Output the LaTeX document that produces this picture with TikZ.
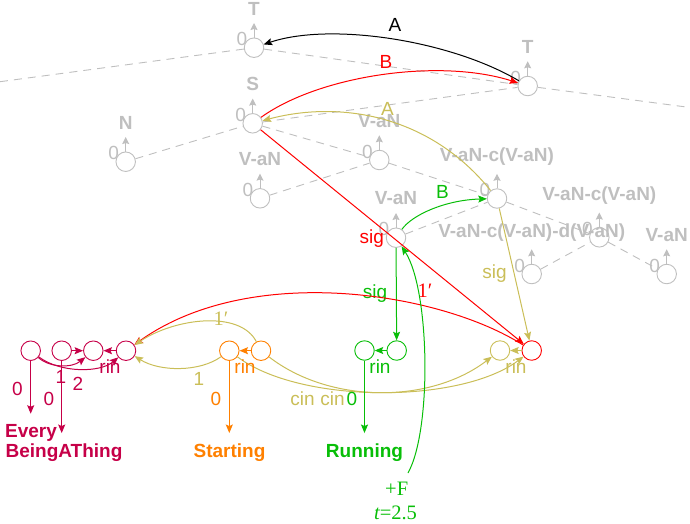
\documentclass[tikz,border=0pt]{standalone}
\usepackage{fontspec}
\setmainfont{Liberation Sans}
\newfontfamily\seriffont{Liberation Serif}
\usetikzlibrary{arrows.meta}
\definecolor{lgray}{RGB}{191,191,191}
\definecolor{myred}{RGB}{255,0,0}
\definecolor{olivec}{RGB}{202,190,88}
\definecolor{mygreen}{RGB}{8,190,8}
\definecolor{myorange}{RGB}{255,128,0}
\definecolor{crim}{RGB}{198,0,72}
\newcommand\tnode[4]{%
  \node[nd,draw=lgray] (#1) at (#2,#3) {};
  \draw[upar] (#1.north) -- ++(0,-14.5);
  \node[glab,anchor=base] (#1z) at ({#2-12},{#3-2}) {0};
  \node[gname] (#1l) at ({#2},{#3-32.5}) {#4};
}
\begin{document}
\begin{tikzpicture}[x=1pt,y=-1pt,
  >={Stealth[length=8.5pt,width=7pt,inset=1.5pt]},
  every node/.style={font=\fontsize{19}{22}\selectfont},
  nd/.style={circle,draw,minimum size=19.5pt,inner sep=0pt,line width=0.9pt},
  tedge/.style={draw=lgray,line width=0.9pt,dash pattern=on 8pt off 6pt},
  upar/.style={draw=lgray,line width=1pt,-{Stealth[length=7pt,width=7pt,inset=1pt]}},
  glab/.style={text=lgray,inner sep=0pt},
  gname/.style={text=lgray,inner sep=0pt,font=\fontsize{19}{22}\selectfont\bfseries,anchor=south},
  elab/.style={inner sep=0pt,anchor=base},
  slab/.style={inner sep=0pt,anchor=base,font=\fontsize{20.5}{24}\seriffont},
  conn/.style={line width=1pt,->},
  tgt/.style={font=\fontsize{19}{22}\selectfont\bfseries,anchor=base,inner xsep=0pt,inner ysep=10pt},
]
\useasboundingbox (0,0) rectangle (690,523);

% ---------- tree nodes ----------
\tnode{T1}{254}{47.7}{T}
\tnode{T2}{527.7}{86}{T}
\tnode{S}{252.7}{123.3}{S}
\tnode{N}{125.7}{161.7}{N}
\tnode{V0}{260}{198.3}{V-aN}
\tnode{V1}{379.3}{160}{V-aN}
\tnode{V2}{396}{237.7}{V-aN}
\tnode{Vc}{497}{198.5}{V-aN-c(V-aN)}
\tnode{Vd}{599.3}{237.3}{V-aN-c(V-aN)}
\tnode{Ve}{531.7}{274}{V-aN-c(V-aN)-d(V-aN)}
\tnode{Vf}{666.7}{274}{V-aN}

\coordinate (Lend) at (0,81.7);
\coordinate (Rend) at (690,107.5);
\draw[tedge] (Lend) -- (T1);
\draw[tedge] (T1) -- (T2);
\draw[tedge] (T2) -- (Rend);
\draw[tedge] (S) -- (T2);
\draw[tedge] (N) -- (S);
\draw[tedge] (S) -- (V1);
\draw[tedge] (V0) -- (V1);
\draw[tedge] (V1) -- (Vc);
\draw[tedge] (V2) -- (Vc);
\draw[tedge] (Vc) -- (Vd);
\draw[tedge] (Ve) -- (Vd);
\draw[tedge] (Vd) -- (Vf);

% ---------- bottom nodes ----------
\node[nd,draw=crim] (c1) at (30.7,350.7) {};
\node[nd,draw=crim] (c2) at (61.7,350.7) {};
\node[nd,draw=crim] (c3) at (93.3,350.7) {};
\node[nd,draw=crim] (c4) at (126,350.7) {};
\node[nd,draw=myorange] (o1) at (229.3,350.7) {};
\node[nd,draw=myorange] (o2) at (261,350.7) {};
\node[nd,draw=mygreen] (g1) at (364.5,350.5) {};
\node[nd,draw=mygreen] (g2) at (396.7,350.5) {};
\node[nd,draw=olivec] (y1) at (500,350.5) {};
\node[nd,draw=myred] (R) at (531.7,350.5) {};

% ---------- upper coloured connectors ----------
\draw[conn,black] (T2) .. controls (450,40) and (330,22) .. (T1);
\node[elab] (lA1) at (395,31) {A};
\draw[conn,myred] (S) .. controls (320,75) and (440,58) .. (T2);
\node[elab,text=myred] (lB1) at (386,68) {B};
\draw[conn,olivec] (Vc) .. controls (430,115) and (340,100) .. (S);
\node[elab,text=olivec] (lA2) at (387.5,115) {A};
\draw[conn,myred] (S) -- (R);
\node[elab,text=myred] (lsig1) at (371.7,243) {sig};
\draw[conn,mygreen] (V2) .. controls (412,215) and (445,200) .. (Vc);
\node[elab,text=mygreen] (lB2) at (442.5,198) {B};
\draw[conn,mygreen] (V2) -- (g2);
\node[elab,text=mygreen] (lsig2) at (375,298) {sig};
\draw[conn,olivec] (Vc) -- (R);
\node[elab,text=olivec] (lsig3) at (494.5,278) {sig};

% ---------- lower curves ----------
\draw[conn,myred] (R) .. controls (440,292) and (250,262) .. (c4);
\node[slab,text=myred] (l1p1) at (425,297) {1′};
\draw[conn,olivec] (o2) .. controls (240,310) and (175,318) .. (c4);
\node[slab,text=olivec] (l1p2) at (221,325) {1′};
\draw[conn,olivec] (o1) .. controls (200,372) and (160,372) .. (c4);
\node[elab,text=olivec] (l1) at (199,385) {1};
\draw[conn,olivec] (o2) .. controls (330,404) and (430,404) .. (y1);
\draw[conn,olivec] (o1) .. controls (300,404) and (460,404) .. (R);
\node[elab,text=olivec] (lcin1) at (302.5,405) {cin};
\node[elab,text=olivec] (lcin2) at (332.5,405) {cin};

% ---------- pair arrows ----------
\draw[conn,crim] (c2) -- (c3);
\draw[conn,crim] (c4) -- (c3);
\node[elab,text=crim] (lr1) at (110,373) {rin};
\draw[conn,myorange] (o2) -- (o1);
\node[elab,text=myorange] (lr2) at (245,373) {rin};
\draw[conn,mygreen] (g2) -- (g1);
\node[elab,text=mygreen] (lr3) at (380,373) {rin};
\draw[conn,olivec] (R) -- (y1);
\node[elab,text=olivec] (lr4) at (516,373) {rin};

\draw[conn,crim] (c1) .. controls (50,368) and (72,368) .. (c3);
\draw[conn,crim] (c1) .. controls (60,373) and (100,373) .. (c4);
\node[elab,text=crim] (lc1) at (61,383) {1};
\node[elab,text=crim] (lc2) at (78,390) {2};

% ---------- targets ----------
\node[tgt,text=crim] (every) at (31,437) {Every};
\node[tgt,text=crim] (bat) at (64,457) {BeingAThing};
\node[tgt,text=myorange] (start) at (229.5,457) {Starting};
\node[tgt,text=mygreen] (run) at (364.5,457) {Running};
\draw[conn,crim] (c1) -- (c1 |- every.north);
\node[elab,text=crim] (l0a) at (17.5,395) {0};
\draw[conn,crim] (c2) -- (c2 |- bat.north);
\node[elab,text=crim] (l0b) at (49,405) {0};
\draw[conn,myorange] (o1) -- (o1 |- start.north);
\node[elab,text=myorange] (l0c) at (216,405) {0};
\draw[conn,mygreen] (g1) -- (g1 |- run.north);
\node[elab,text=mygreen] (l0d) at (352,405) {0};

% ---------- +F ----------
\node[slab,text=mygreen] (fplus) at (396.7,495) {+F};
\node[slab,text=mygreen] (tval) at (395.5,519) {{\itshape t}=2.5};
\coordinate (fs) at (408,473);
\draw[conn,mygreen] (fs) .. controls (432,430) and (430,290) .. (V2);
\end{tikzpicture}
\end{document}
